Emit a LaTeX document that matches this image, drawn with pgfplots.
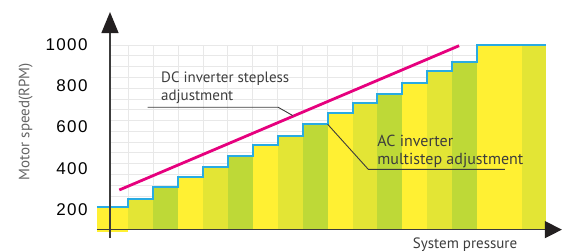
\documentclass[border=0pt]{standalone}
\usepackage{pgfplots}
\pgfplotsset{compat=1.18}
\usetikzlibrary{arrows.meta}
\usepackage{fontspec}
\setmainfont{PT Sans}
\newfontfamily\tickfont[LetterSpace=8]{Liberation Sans}
\definecolor{cyel}{HTML}{FFF033}
\definecolor{colv}{HTML}{E3E535}
\definecolor{cgrn}{HTML}{BED937}
\definecolor{cblue}{HTML}{29ABE2}
\definecolor{cmag}{HTML}{E6007E}
\definecolor{caxis}{HTML}{3C3C3C}
\definecolor{carrow}{HTML}{231F20}
\definecolor{ctext}{HTML}{3D3D3D}
\definecolor{cgrid}{HTML}{E8E8E8}
\newcommand\barp[5]{\addplot[fill=#5, draw=none] coordinates {(#1,#4) (#1,#3) (#2,#3) (#2,#4)} --cycle;}
\begin{document}
\begin{tikzpicture}
% background grid region
\begin{axis}[
  at={(110pt,22.5pt)}, anchor=south west,
  width=436pt, height=184.5pt, scale only axis,
  xmin=0.2786, xmax=17.74, ymin=102, ymax=1000,
  xtick={1,...,17}, ytick={1000,947.5,...,100},
  xticklabels={}, yticklabels={},
  major tick length=0pt,
  axis line style={draw=none},
  grid=major, grid style={cgrid, line width=0.8pt},
]
\addplot[draw=none] coordinates {(1,500)};
\end{axis}
% main axis
\begin{axis}[
  at={(0,0)}, anchor=south west,
  width=563pt, height=252pt, scale only axis,
  xmin=-4.130, xmax=18.435, ymin=-7.8, ymax=1218.5,
  xtick=\empty,
  ytick={200,400,600,800,1000},
  yticklabels={200,400,600,800,1000},
  yticklabel style={font=\tickfont\fontsize{17}{17}\selectfont, text=black, anchor=east, inner sep=0pt, xshift=87.7pt},
  major tick length=0pt,
  axis line style={draw=none},
  clip=false,
]
% bars: x0, x1, top, bottom, colour
\barp{-0.25}{1}{210}{90}{cyel}
\barp{1}{2}{250}{100}{colv}
\barp{2}{3}{310}{100}{cgrn}
\barp{3}{4}{359}{100}{cyel}
\barp{4}{5}{407}{100}{colv}
\barp{5}{6}{461}{100}{cgrn}
\barp{6}{7}{513}{100}{cyel}
\barp{7}{8}{558}{100}{colv}
\barp{8}{9}{614}{100}{cgrn}
\barp{9}{10}{667}{100}{cyel}
\barp{10}{11}{719}{100}{colv}
\barp{11}{12}{763}{100}{cgrn}
\barp{12}{13}{816}{100}{cyel}
\barp{13}{14}{873}{100}{colv}
\barp{14}{15}{918}{100}{cgrn}
\barp{15}{16.78}{1000}{100}{cyel}
\barp{16.78}{17.74}{1000}{100}{colv}
% AC inverter multistep steps
\addplot[const plot, cblue, line width=2pt] coordinates {
  (-0.25,210) (1,250) (2,310) (3,359) (4,407) (5,461) (6,513) (7,558)
  (8,614) (9,667) (10,719) (11,763) (12,816) (13,873) (14,918) (15,1000) (17.74,1000)};
% DC inverter stepless
\addplot[cmag, line width=2.8pt] coordinates {(0.651,294) (14.27,996)};
% leader lines
\addplot[caxis, line width=0.9pt] coordinates {(1.79,696.4) (7.02,696.4) (7.60,656.4)};
\addplot[caxis, line width=0.9pt] coordinates {(9.0,614) (10.63,394.6) (16.11,394.6)};
% axes with arrows
\draw[caxis, line width=1.3pt, -{Triangle[length=17pt,width=17pt,color=carrow]}]
  (axis cs:-0.25,101) -- (axis cs:18.39,101);
\draw[caxis, line width=1.3pt, -{Triangle[length=21pt,width=17pt,color=carrow]}]
  (axis cs:0.2786,60) -- (axis cs:0.2786,1160);
% texts
\node[anchor=base west, inner sep=0pt, text=ctext, font=\fontsize{15}{15}\selectfont] at (axis cs:2.323,814.6) {DC inverter stepless};
\node[anchor=base west, inner sep=0pt, text=ctext, font=\fontsize{15}{15}\selectfont] at (axis cs:2.323,729.4) {adjustment};
\node[anchor=base west, inner sep=0pt, text=ctext, font=\fontsize{16}{16}\selectfont] at (axis cs:10.99,504.6) {AC inverter};
\node[anchor=base west, inner sep=0pt, text=ctext, font=\fontsize{16}{16}\selectfont] at (axis cs:10.99,420.4) {multistep adjustment};
\node[anchor=base, inner sep=0pt, text=ctext, font=\fontsize{15}{15}\selectfont] at (axis cs:14.51,10.2) {System pressure};
\node[anchor=base, inner sep=0pt, rotate=90, text=ctext!80, font=\fontsize{15}{15}\selectfont] at (axis cs:-2.948,627) {Motor speed(RPM)};
\end{axis}
\pgfresetboundingbox
\useasboundingbox (0,0) rectangle (563pt,252pt);
\end{tikzpicture}
\end{document}
